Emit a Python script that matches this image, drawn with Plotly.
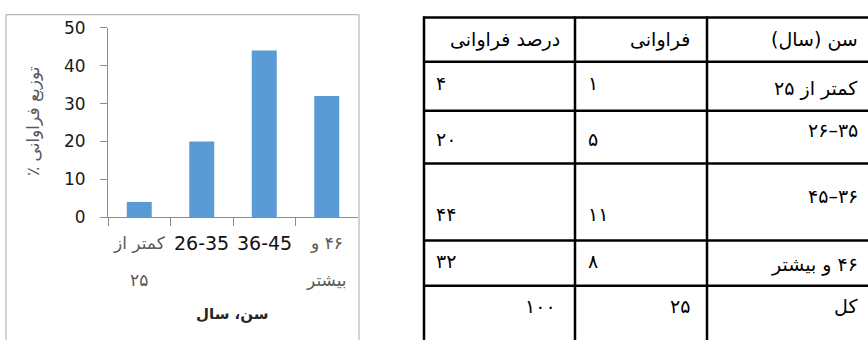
import plotly.graph_objects as go

# ---------------- data ----------------
categories = ["کمتر از ۲۵", "26-35", "36-45", "۴۶ و بیشتر"]
percent = [4, 20, 44, 32]
frequency = [1, 5, 11, 8]
total_frequency = 25
total_percent = 100
y_ticks = [0, 10, 20, 30, 40, 50]
tick_lines = [["کمتر از", "۲۵"], ["26-35", ""], ["36-45", ""], ["۴۶ و", "بیشتر"]]
y_title = "توزیع فراوانی ٪"
x_title = "سن، سال"
table_header = ["درصد فراوانی", "فراوانی", "سن (سال)"]
table_age = ["کمتر از ۲۵", "۲۶–۳۵", "۴۵–۳۶", "۴۶ و بیشتر", "کل"]

# ---------------- helpers ----------------
W, H = 868, 340
RLM = "\u200f"
FA = str.maketrans("0123456789", "۰۱۲۳۴۵۶۷۸۹")


def fa(n):
    return str(n).translate(FA)


def rtl(s):
    return RLM + s + RLM


def px(x):
    return x / W


def py(y):
    return 1 - y / H


FONT = "DejaVu Sans"
GRAY_AX = "#8c8c8c"

fig = go.Figure()
fig.add_trace(go.Bar(
    x=categories, y=percent, marker=dict(color="#5b9bd5", line=dict(width=0)),
    width=0.4, hoverinfo="skip",
))

ax_x0, ax_x1 = 108, 358
ax_y0, ax_y1 = 220, 19

fig.update_layout(
    width=W, height=H, margin=dict(l=0, r=0, t=0, b=0),
    paper_bgcolor="white", plot_bgcolor="white", showlegend=False,
    xaxis=dict(
        domain=[px(ax_x0), px(ax_x1)], type="category", range=[-0.5, 3.5],
        showline=True, linecolor=GRAY_AX, linewidth=1,
        ticks="outside", tickson="boundaries", ticklen=8, tickcolor=GRAY_AX,
        showticklabels=False, showgrid=False, zeroline=False, fixedrange=True,
    ),
    yaxis=dict(
        domain=[py(ax_y0), py(ax_y1)], range=[0, 50], tickvals=y_ticks,
        showline=True, linecolor=GRAY_AX, linewidth=1,
        ticks="outside", ticklen=7, tickcolor=GRAY_AX, ticklabelstandoff=11,
        tickfont=dict(family=FONT, size=17, color="#1a1a1a"),
        showgrid=False, zeroline=False, fixedrange=True,
    ),
)

shapes = []
# chart frame
shapes.append(dict(type="rect", xref="paper", yref="paper",
                   x0=px(6), x1=px(359), y0=py(5), y1=py(360),
                   line=dict(color="#a6a6a6", width=1)))

# table grid
col_x = [424, 575, 707, 880]
row_y = [8, 55, 107, 163, 245, 293, 360]
for yv in row_y:
    shapes.append(dict(type="line", xref="paper", yref="paper",
                       x0=px(col_x[0] - 1), x1=px(col_x[-1]), y0=py(yv), y1=py(yv),
                       line=dict(color="black", width=2.5)))
for xv in col_x[:-1]:
    shapes.append(dict(type="line", xref="paper", yref="paper",
                       x0=px(xv), x1=px(xv), y0=py(row_y[0] - 1), y1=py(row_y[-1]),
                       line=dict(color="black", width=2.5)))
fig.update_layout(shapes=shapes)

ann = []
# x tick labels (two lines each)
line1_y, line2_y = 248, 287
for cat, lines in zip(categories, tick_lines):
    for txt, yy in zip(lines, [line1_y, line2_y]):
        if not txt:
            continue
        is_latin = txt[0].isascii()
        ann.append(dict(
            x=cat, xref="x", y=py(yy), yref="paper", showarrow=False,
            text=txt if is_latin else rtl(txt),
            xanchor="center", yanchor="middle",
            font=dict(family=FONT, size=19 if is_latin else 17,
                      color="#111111" if is_latin else "#595959"),
        ))
# x title
ann.append(dict(x=px(233), y=py(323), xref="paper", yref="paper", showarrow=False,
                text="<b>" + rtl(x_title) + "</b>", xanchor="center", yanchor="middle",
                font=dict(family=FONT, size=15, color="#262626")))
# y title
ann.append(dict(x=px(33), y=py(118), xref="paper", yref="paper", showarrow=False,
                text=rtl(y_title), textangle=-90, xanchor="center", yanchor="middle",
                font=dict(family=FONT, size=17, color="#595959")))

# table text
TF = dict(family=FONT, size=19, color="black")


def cell(x, y, txt, anchor):
    ann.append(dict(x=px(x), y=py(y), xref="paper", yref="paper", showarrow=False,
                    text=txt, xanchor=anchor, yanchor="middle", font=TF))


header_right = [562, 692, 860]
for txt, xr in zip(table_header, header_right):
    cell(xr, 31, rtl(txt), "right")

num_y = [78, 137, 217, 267]
age_y = [83, 128, 198, 270]
for i in range(4):
    cell(434, num_y[i], fa(percent[i]), "left")
    cell(586, num_y[i], fa(frequency[i]), "left")
    age = table_age[i]
    cell(860, age_y[i], age if age[0] in "۰۱۲۳۴۵۶۷۸۹" and "و" not in age else rtl(age), "right")
cell(558, 315, fa(total_percent), "right")
cell(692, 315, fa(total_frequency), "right")
cell(860, 315, rtl(table_age[4]), "right")

fig.update_layout(annotations=ann)

fig.write_html("out.html", config={"displayModeBar": False, "staticPlot": True},
               post_script="document.body.style.margin='0';")
